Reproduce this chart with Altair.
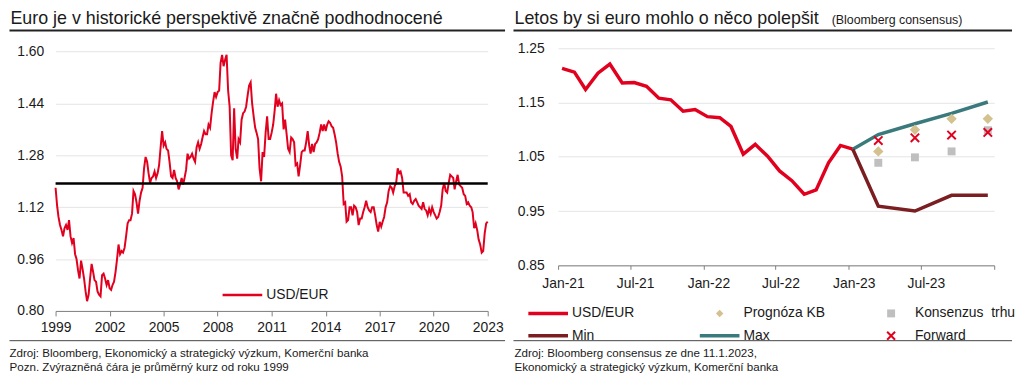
import altair as alt
import pandas as pd

FONT = "Liberation Sans"
RED = "#e2001f"
BROWN = "#7a1e22"
TEAL = "#3b7a7c"
TAN = "#d4c190"
GRAY = "#bfbfbf"
TXT = "#1a1a1a"
GRID = "#e4e4e4"
AXIS = "#7f7f7f"

# ---------------- left panel data (monthly, Jan 1999 .. Jan 2023) ----------------
hist_usd_eur = [
    1.180, 1.125, 1.090, 1.065, 1.050, 1.030, 1.055, 1.065, 1.050, 1.080, 1.030, 1.010,
    1.025, 0.975, 0.960, 0.925, 0.900, 0.955, 0.930, 0.900, 0.860, 0.830, 0.850, 0.900,
    0.945, 0.920, 0.895, 0.890, 0.860, 0.850, 0.845, 0.910, 0.915, 0.900, 0.880, 0.895,
    0.870, 0.865, 0.880, 0.890, 0.920, 0.960, 1.005, 0.975, 0.985, 0.980, 0.995, 1.030,
    1.070, 1.080, 1.080, 1.100, 1.170, 1.160, 1.135, 1.100, 1.140, 1.165, 1.180, 1.240,
    1.275, 1.260, 1.225, 1.195, 1.210, 1.215, 1.230, 1.210, 1.225, 1.250, 1.305, 1.355,
    1.310, 1.320, 1.300, 1.295, 1.260, 1.215, 1.210, 1.235, 1.210, 1.200, 1.175, 1.190,
    1.210, 1.190, 1.210, 1.235, 1.285, 1.270, 1.275, 1.285, 1.270, 1.260, 1.305, 1.320,
    1.300, 1.315, 1.335, 1.355, 1.345, 1.345, 1.375, 1.365, 1.410, 1.445, 1.475, 1.460,
    1.475, 1.480, 1.565, 1.590, 1.555, 1.575, 1.590, 1.480, 1.430, 1.280, 1.265, 1.425,
    1.300, 1.270, 1.330, 1.320, 1.390, 1.410, 1.415, 1.430, 1.465, 1.495, 1.505, 1.440,
    1.400, 1.365, 1.350, 1.330, 1.240, 1.200, 1.290, 1.275, 1.350, 1.400, 1.330, 1.330,
    1.350, 1.375, 1.415, 1.470, 1.430, 1.450, 1.435, 1.440, 1.360, 1.390, 1.345, 1.300,
    1.290, 1.335, 1.330, 1.320, 1.250, 1.255, 1.215, 1.250, 1.290, 1.295, 1.295, 1.320,
    1.355, 1.310, 1.285, 1.315, 1.290, 1.315, 1.320, 1.330, 1.350, 1.375, 1.355, 1.375,
    1.355, 1.375, 1.385, 1.380, 1.370, 1.365, 1.345, 1.320, 1.285, 1.260, 1.245, 1.215,
    1.130, 1.135, 1.075, 1.080, 1.120, 1.120, 1.095, 1.125, 1.120, 1.105, 1.065, 1.085,
    1.085, 1.105, 1.120, 1.140, 1.120, 1.110, 1.105, 1.120, 1.120, 1.095, 1.065, 1.045,
    1.075, 1.060, 1.075, 1.090, 1.120, 1.135, 1.170, 1.185, 1.180, 1.165, 1.185, 1.195,
    1.240, 1.225, 1.230, 1.210, 1.165, 1.165, 1.165, 1.155, 1.160, 1.135, 1.130, 1.140,
    1.145, 1.135, 1.125, 1.120, 1.115, 1.135, 1.115, 1.110, 1.095, 1.115, 1.100, 1.120,
    1.105, 1.095, 1.085, 1.090, 1.105, 1.125, 1.175, 1.195, 1.170, 1.165, 1.195, 1.220,
    1.215, 1.210, 1.175, 1.200, 1.220, 1.190, 1.185, 1.180, 1.160, 1.155, 1.130, 1.135,
    1.125, 1.120, 1.105, 1.055, 1.070, 1.050, 1.020, 1.005, 0.980, 0.985, 1.040, 1.070,
    1.075,
]
hist_average = 1.193
left_year_ticks = [1999, 2002, 2005, 2008, 2011, 2014, 2017, 2020, 2023]
left_y_ticks = [0.80, 0.96, 1.12, 1.28, 1.44, 1.60]

# ---------------- right panel data ----------------
spot_dates = pd.date_range("2021-01-01", periods=25, freq="MS") + pd.Timedelta(days=10)
spot_values = [1.213, 1.206, 1.174, 1.204, 1.221, 1.186, 1.187, 1.180, 1.158, 1.155,
               1.134, 1.137, 1.124, 1.122, 1.106, 1.055, 1.073, 1.051, 1.024, 1.006,
               0.981, 0.989, 1.039, 1.071, 1.064]
band_dates = ["2023-01-11", "2023-03-16", "2023-06-16", "2023-09-16", "2023-12-16"]
max_values = [1.064, 1.091, 1.111, 1.130, 1.151]
min_values = [1.064, 0.959, 0.950, 0.979, 0.979]
forecast_dates = ["2023-03-16", "2023-06-16", "2023-09-16", "2023-12-16"]
kb_values = [1.060, 1.100, 1.120, 1.120]
consensus_values = [1.039, 1.049, 1.060, 1.099]
forward_values = [1.080, 1.085, 1.090, 1.095]
right_y_ticks = [0.85, 0.95, 1.05, 1.15, 1.25]
legend_labels = ["USD/EUR", "Prognóza KB", "Konsenzus \u00a0trhu", "Min", "Max", "Forward"]

# legend symbol styling (paths in unit coords, symbolSize 100 -> 5 px per unit)
LINE_SYM = "M-4,0H4"
DIAM_SYM = "M-4,0M4,0M0,-0.75L0.75,0L0,0.75L-0.75,0Z"
SQ_SYM = "M-4,0M4,0M-0.8,-0.8H0.8V0.8H-0.8Z"
X_SYM = "M-4,0M4,0M-0.8,-0.8L0.8,0.8M-0.8,0.8L0.8,-0.8"
X_MARK = "M-1,-1L1,1M-1,1L1,-1"
legend_shapes = [LINE_SYM, DIAM_SYM, SQ_SYM, LINE_SYM, LINE_SYM, X_SYM]
legend_fills = ["transparent", TAN, GRAY, "transparent", "transparent", "transparent"]
legend_strokes = [RED, "transparent", "transparent", BROWN, TEAL, RED]
legend_widths = [3.5, 0, 0, 3.5, 3.5, 2]


def text_layer(txt, x, y, size):
    return alt.Chart(pd.DataFrame({"t": [txt]})).mark_text(
        font=FONT, fontSize=size, color=TXT, align="left", baseline="alphabetic",
    ).encode(x=alt.value(x), y=alt.value(y), text="t:N")


def hline(x1, x2, y, width, color):
    return alt.Chart(pd.DataFrame({"k": [0]})).mark_rule(
        color=color, strokeWidth=width
    ).encode(x=alt.value(x1), x2=alt.value(x2), y=alt.value(y))


# ================= LEFT =================
LW, LH = 436, 265
hist_df = pd.DataFrame({
    "date": pd.date_range("1999-01-01", periods=len(hist_usd_eur), freq="MS"),
    "usd_eur": hist_usd_eur,
    "series": "USD/EUR",
})

x_left = alt.X(
    "date:T",
    scale=alt.Scale(domain=[alt.DateTime(year=1999, month=1, date=1),
                            alt.DateTime(year=2023, month=1, date=1)]),
    axis=alt.Axis(
        values=[alt.DateTime(year=y, month=1, date=1) for y in left_year_ticks],
        labelExpr="timeFormat(datum.value, '%Y')", title=None, grid=False,
        domainColor=AXIS, tickColor=AXIS, tickSize=5, labelPadding=5,
        labelFontSize=14, labelColor=TXT, labelFlush=False, labelOverlap=False,
    ),
)
y_left = alt.Y(
    "usd_eur:Q",
    scale=alt.Scale(domain=[0.8, 1.6102], nice=False, zero=False),
    axis=alt.Axis(values=left_y_ticks, format=".2f", title=None, grid=True,
                  gridColor=GRID, domain=False, ticks=False, labelPadding=12,
                  labelFontSize=14, labelColor=TXT),
)

left_line = alt.Chart(hist_df).mark_line(strokeWidth=2).encode(
    x=x_left, y=y_left,
    stroke=alt.Stroke(
        "series:N", scale=alt.Scale(domain=["USD/EUR"], range=[RED]),
        legend=alt.Legend(title=None, orient="none", legendX=181.5, legendY=242,
                          symbolType=LINE_SYM, symbolSize=100, symbolStrokeWidth=2.5,
                          labelFontSize=14, labelOffset=17, labelColor=TXT, labelFont=FONT),
    ),
)
avg_rule = alt.Chart(pd.DataFrame({"usd_eur": [hist_average]})).mark_rule(
    color="#000000", strokeWidth=2.5
).encode(y=y_left)

left = alt.layer(
    left_line,
    avg_rule,
    text_layer("Euro je v historické perspektivě značně podhodnocené", -45.5, -25, 18),
    hline(-46.5, 453.5, -18, 2, "#222222"),
    hline(-46.5, 453.5, 295, 1, "#444444"),
    text_layer("Zdroj: Bloomberg, Ekonomický a strategický výzkum, Komerční banka", -46.5, 311, 11.7),
    text_layer("Pozn. Zvýrazněná čára je průměrný kurz od roku 1999", -46.5, 326, 11.7),
).properties(width=LW, height=LH)

# ================= RIGHT =================
RW, RH = 440, 219
spot_df = pd.DataFrame({"date": spot_dates, "value": spot_values})
max_df = pd.DataFrame({"date": pd.to_datetime(band_dates), "value": max_values})
min_df = pd.DataFrame({"date": pd.to_datetime(band_dates), "value": min_values})
kb_df = pd.DataFrame({"date": pd.to_datetime(forecast_dates), "value": kb_values})
cons_df = pd.DataFrame({"date": pd.to_datetime(forecast_dates), "value": consensus_values})
fwd_df = pd.DataFrame({"date": pd.to_datetime(forecast_dates), "value": forward_values})

right_x_ticks = [alt.DateTime(year=y, month=m, date=1)
                 for y in (2021, 2022, 2023) for m in (1, 7)] + [alt.DateTime(year=2024, month=1, date=1)]
x_right = alt.X(
    "date:T",
    scale=alt.Scale(domain=[alt.DateTime(year=2021, month=1, date=1),
                            alt.DateTime(year=2024, month=1, date=1)]),
    axis=alt.Axis(
        values=right_x_ticks,
        labelExpr="year(datum.value) >= 2024 ? '' : timeFormat(datum.value, '%b-%y')",
        title=None, grid=False, domainColor=AXIS, tickColor=AXIS, tickSize=4,
        labelPadding=7, labelFontSize=14, labelColor=TXT, labelFlush=False,
        labelOverlap=False, labelOffset=5,
    ),
)
y_right = alt.Y(
    "value:Q",
    scale=alt.Scale(domain=[0.85, 1.25], nice=False, zero=False),
    axis=alt.Axis(values=right_y_ticks, format=".2f", title=None, grid=True,
                  gridColor=GRID, domain=False, ticks=False, labelPadding=14,
                  labelFontSize=14, labelColor=TXT),
)

spot_line = alt.Chart(spot_df).mark_line(color=RED, strokeWidth=3.5).encode(x=x_right, y=y_right)
max_line = alt.Chart(max_df).mark_line(color=TEAL, strokeWidth=3.5).encode(x=x_right, y=y_right)
min_line = alt.Chart(min_df).mark_line(color=BROWN, strokeWidth=3.5).encode(x=x_right, y=y_right)
cons_pts = alt.Chart(cons_df).mark_point(shape="square", filled=True, color=GRAY, size=64,
                                         opacity=1).encode(x=x_right, y=y_right)
kb_pts = alt.Chart(kb_df).mark_point(shape="diamond", filled=True, color=TAN, size=110,
                                     opacity=1).encode(x=x_right, y=y_right)
fwd_pts = alt.Chart(fwd_df).mark_point(shape=X_MARK, filled=False, color=RED, size=72,
                                       strokeWidth=2, opacity=1).encode(x=x_right, y=y_right)

LEG = alt.Legend(title=None, orient="none", legendX=-17, legendY=260, columns=3,
                 direction="horizontal", gridAlign="all", columnPadding=20, rowPadding=7,
                 symbolSize=100, labelFontSize=14, labelOffset=17, labelColor=TXT,
                 labelFont=FONT, symbolOpacity=1, symbolFillColor="transparent",
                 symbolStrokeColor="transparent")
legend_layer = alt.Chart(pd.DataFrame({"series": legend_labels})).mark_point(opacity=0).encode(
    fill=alt.Fill("series:N", scale=alt.Scale(type="ordinal", domain=legend_labels,
                                              range=legend_fills), legend=LEG),
    stroke=alt.Stroke("series:N", scale=alt.Scale(type="ordinal", domain=legend_labels,
                                                  range=legend_strokes), legend=LEG),
    shape=alt.Shape("series:N", scale=alt.Scale(type="ordinal", domain=legend_labels,
                                                range=legend_shapes), legend=LEG),
    strokeWidth=alt.StrokeWidth("series:N", scale=alt.Scale(type="ordinal", domain=legend_labels,
                                                            range=legend_widths), legend=LEG),
)

right = alt.layer(
    spot_line, max_line, min_line, cons_pts, kb_pts, fwd_pts, legend_layer,
    text_layer("Letos by si euro mohlo o něco polepšit", -44, -25, 18),
    text_layer("(Bloomberg consensus)", 276, -25, 12.5),
    hline(-45, 458, -18, 2, "#222222"),
    hline(-45, 458, 295, 1, "#444444"),
    text_layer("Zdroj: Bloomberg consensus ze dne 11.1.2023,", -44, 311, 11.7),
    text_layer("Ekonomický a strategický výzkum, Komerční banka", -44, 326, 11.7),
).properties(width=RW, height=RH)

chart = alt.hconcat(left, right, spacing=6).resolve_scale(
    fill="independent", stroke="independent", shape="independent", strokeWidth="independent"
).resolve_legend(
    fill="independent", stroke="independent", shape="independent", strokeWidth="independent"
).properties(
    padding={"left": 0, "top": 0, "right": 0, "bottom": 0}
).configure(font=FONT).configure_view(stroke=None)

chart.save("out.html", embed_options={"renderer": "svg", "actions": False})
